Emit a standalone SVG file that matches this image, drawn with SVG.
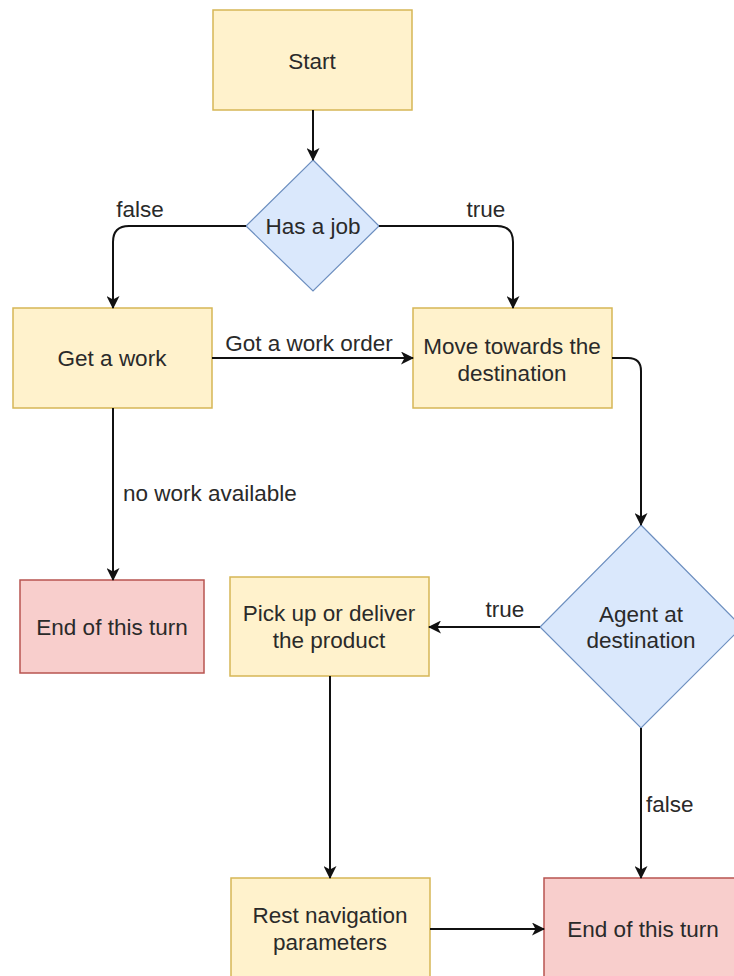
<svg xmlns="http://www.w3.org/2000/svg" width="734" height="976" viewBox="0 0 734 976">
<style>
text{font-family:"Liberation Sans",Arial,sans-serif;font-size:22.5px;fill:#2a2a2a;text-anchor:middle;dominant-baseline:central}
.y{fill:#fff2cc;stroke:#d6b656;stroke-width:1.5}
.r{fill:#f8cecc;stroke:#b85450;stroke-width:1.5}
.b{fill:#dae8fc;stroke:#6c8ebf;stroke-width:1.2}
.e{fill:none;stroke:#111;stroke-width:2}
.l{text-anchor:start}
</style>
<defs>
<marker id="a" viewBox="0 0 13 13" refX="12" refY="6.5" markerWidth="13" markerHeight="13" markerUnits="userSpaceOnUse" orient="auto">
<path d="M0,0 L13,6.5 L0,13 L3.5,6.5 Z" fill="#111"/>
</marker>
</defs>
<g id="start"><rect class="y" x="213" y="10" width="199" height="100"/><text x="312" y="61">Start</text></g>
<g id="hasjob"><path class="b" d="M313,160 L379,226 L313,291 L246,226 Z"/><text x="313" y="226">Has a job</text></g>
<g id="getwork"><rect class="y" x="13" y="308" width="199" height="100"/><text x="112" y="358">Get a work</text></g>
<g id="move"><rect class="y" x="413" y="308" width="199" height="100"/><text x="512" y="346">Move towards the</text><text x="512" y="373">destination</text></g>
<g id="end1"><rect class="r" x="20" y="580" width="184" height="93"/><text x="112" y="627">End of this turn</text></g>
<g id="pickup"><rect class="y" x="230" y="577" width="199" height="99"/><text x="329" y="613">Pick up or deliver</text><text x="329" y="640">the product</text></g>
<g id="agent"><path class="b" d="M641,525 L742,627 L641,728 L540,627 Z"/><text x="641" y="614">Agent at</text><text x="641" y="640">destination</text></g>
<g id="rest"><rect class="y" x="231" y="878" width="199" height="110"/><text x="330" y="915">Rest navigation</text><text x="330" y="942">parameters</text></g>
<g id="end2"><rect class="r" x="544" y="878" width="200" height="110"/><text x="643" y="929">End of this turn</text></g>
<g id="edges">
<path class="e" d="M313,110 V160" marker-end="url(#a)"/>
<path class="e" d="M246,226 H129 Q113,226 113,242 V308" marker-end="url(#a)"/>
<text x="140" y="209">false</text>
<path class="e" d="M379,226 H497 Q513,226 513,242 V308" marker-end="url(#a)"/>
<text x="486" y="209">true</text>
<path class="e" d="M212,358 H413" marker-end="url(#a)"/>
<text x="309" y="343">Got a work order</text>
<path class="e" d="M612,358 H628 Q641,358 641,371 V525" marker-end="url(#a)"/>
<path class="e" d="M113,408 V580" marker-end="url(#a)"/>
<text class="l" x="123" y="493">no work available</text>
<path class="e" d="M540,627 H429" marker-end="url(#a)"/>
<text x="505" y="609">true</text>
<path class="e" d="M330,676 V878" marker-end="url(#a)"/>
<path class="e" d="M430,929 H544" marker-end="url(#a)"/>
<path class="e" d="M641,728 V878" marker-end="url(#a)"/>
<text class="l" x="646" y="804">false</text>
</g>
</svg>
